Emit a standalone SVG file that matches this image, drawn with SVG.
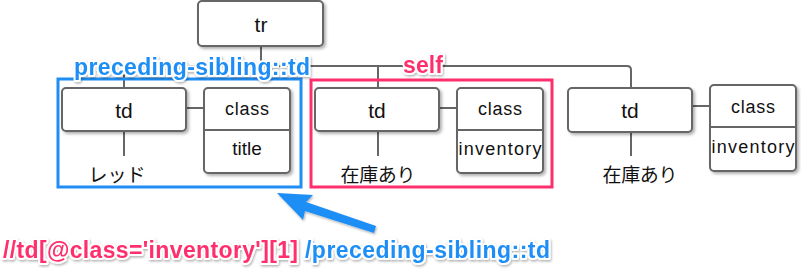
<svg xmlns="http://www.w3.org/2000/svg" width="801" height="275" viewBox="0 0 801 275">
<defs>
<filter id="sh" x="-20%" y="-20%" width="150%" height="160%">
<feDropShadow dx="2" dy="2" stdDeviation="1.5" flood-color="#000" flood-opacity="0.3"/>
</filter>
<filter id="tsh" x="-10%" y="-30%" width="120%" height="170%">
<feDropShadow dx="1" dy="1.5" stdDeviation="1" flood-color="#000" flood-opacity="0.3"/>
</filter>
</defs>
<style>
.box{fill:#fff;stroke:#666;stroke-width:2;filter:url(#sh)}
.ln{fill:none;stroke:#666;stroke-width:2}
.t{font-family:"Liberation Sans","Noto Sans CJK JP",sans-serif;fill:#111;text-anchor:middle}
.jp{font-family:"Noto Sans CJK JP",sans-serif;fill:#111;text-anchor:middle;font-size:19px}
.lab{font-family:"Liberation Sans","Noto Sans CJK JP",sans-serif;font-weight:bold;stroke:#fff;stroke-width:4;stroke-linejoin:round;paint-order:stroke;filter:url(#tsh)}
.blue{fill:#1E8EF5}
.pink{fill:#FF2E6C}
</style>
<g id="connectors">
<path class="ln" d="M261 46V66M124 88V66H627Q631 66 631 70V88M378 66V88"/>
<path class="ln" d="M124 131V156M378 131V156M631 132V156"/>
<path class="ln" d="M186 108H204M439 108H457M692 106H710"/>
</g>
<g id="tr"><rect class="box" x="198" y="1" width="125" height="45" rx="4"/><text class="t" x="261" y="32" font-size="21">tr</text></g>
<g id="td1"><rect class="box" x="62" y="88" width="124" height="43" rx="4"/><text class="t" x="124" y="118" font-size="21">td</text></g>
<g id="class1"><rect class="box" x="204" y="88" width="86" height="85" rx="4"/><line class="ln" x1="204" y1="130" x2="290" y2="130"/><text class="t" x="247" y="115" font-size="18" textLength="44">class</text><text class="t" x="247" y="155" font-size="19">title</text></g>
<g id="text1"><text class="jp" x="117" y="182" textLength="57">レッド</text></g>
<g id="td2"><rect class="box" x="315" y="88" width="124" height="43" rx="4"/><text class="t" x="377" y="118" font-size="21">td</text></g>
<g id="class2"><rect class="box" x="457" y="88" width="86" height="85" rx="4"/><line class="ln" x1="457" y1="130" x2="543" y2="130"/><text class="t" x="500" y="115" font-size="18" textLength="44">class</text><text class="t" x="500" y="155" font-size="18" textLength="83">inventory</text></g>
<g id="text2"><text class="jp" x="378" y="182" textLength="75">在庫あり</text></g>
<g id="td3"><rect class="box" x="568" y="88" width="124" height="44" rx="4"/><text class="t" x="630" y="118" font-size="21">td</text></g>
<g id="class3"><rect class="box" x="710" y="85" width="86" height="86" rx="4"/><line class="ln" x1="710" y1="127" x2="796" y2="127"/><text class="t" x="753" y="113" font-size="18" textLength="44">class</text><text class="t" x="753" y="153" font-size="18" textLength="83">inventory</text></g>
<g id="text3"><text class="jp" x="640" y="182" textLength="75">在庫あり</text></g>
<g id="self">
<rect x="311" y="80" width="241" height="107" fill="none" stroke="#FF2E6C" stroke-width="3"/>
<text class="lab pink" x="403" y="73" font-size="23" textLength="40">self</text>
</g>
<g id="preceding">
<rect x="58" y="79" width="243" height="108" fill="none" stroke="#1E8EF5" stroke-width="3"/>
<text class="lab blue" x="74" y="75" font-size="23" textLength="236">preceding-sibling::td</text>
</g>
<g id="arrow"><polygon class="blue" points="277,193 313,195 306,202 376,226 374,233 305,211 303,220" style="filter:url(#tsh)"/></g>
<g id="xpath">
<text class="lab" x="3" y="258" font-size="23"><tspan class="pink" textLength="295">//td[@class='inventory'][1]</tspan><tspan class="blue" x="305" textLength="245">/preceding-sibling::td</tspan></text>
</g>
</svg>
